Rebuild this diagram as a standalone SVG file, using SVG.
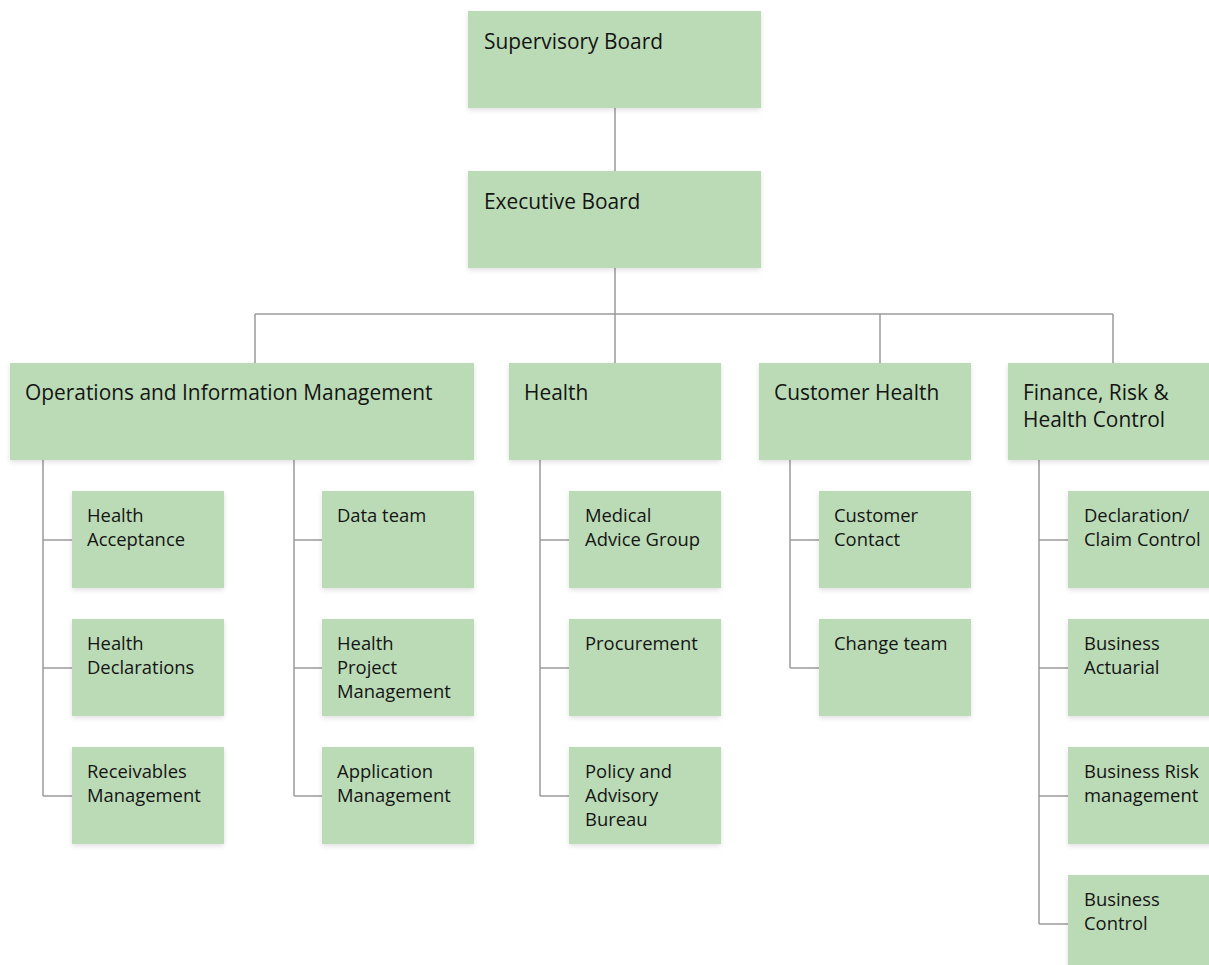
<svg xmlns="http://www.w3.org/2000/svg" width="1209" height="965" viewBox="0 0 1209 965">
<defs>
<filter id="sh" x="-10%" y="-10%" width="120%" height="130%">
<feDropShadow dx="0" dy="2" stdDeviation="2.5" flood-color="#000" flood-opacity="0.12"/>
</filter>
<style>
.box{fill:#bbdbb6;filter:url(#sh)}
.t1{font-family:"Open Sans","Noto Sans",sans-serif;font-size:20.9px;fill:#141414}
.t2{font-family:"Open Sans","Noto Sans",sans-serif;font-size:18.4px;fill:#141414}
.c{fill:none;stroke:#9a9a9a;stroke-width:1.5}
</style>
</defs>
<rect width="1209" height="965" fill="#fff"/>
<g id="connectors">
<path class="c" d="M615 108V171M615 268V314M255 314H1113M255 314V363M615 314V363M880 314V363M1113 314V363"/>
<path class="c" d="M43 460V796M43 540H72M43 668H72M43 796H72"/>
<path class="c" d="M294 460V796M294 540H322M294 668H322M294 796H322"/>
<path class="c" d="M540 460V796M540 540H569M540 668H569M540 796H569"/>
<path class="c" d="M790 460V668M790 540H819M790 668H819"/>
<path class="c" d="M1039 460V924M1039 540H1068M1039 668H1068M1039 796H1068M1039 924H1068"/>
</g>
<g id="supervisory"><rect class="box" x="468" y="11" width="293" height="97"/><text class="t1" x="484" y="49">Supervisory Board</text></g>
<g id="executive"><rect class="box" x="468" y="171" width="293" height="97"/><text class="t1" x="484" y="209">Executive Board</text></g>
<g id="ops"><rect class="box" x="10" y="363" width="464" height="97"/><text class="t1" x="25" y="400">Operations and Information Management</text></g>
<g id="health"><rect class="box" x="509" y="363" width="212" height="97"/><text class="t1" x="524" y="400">Health</text></g>
<g id="customer-health"><rect class="box" x="759" y="363" width="212" height="97"/><text class="t1" x="774" y="400">Customer Health</text></g>
<g id="finance"><rect class="box" x="1008" y="363" width="212" height="97"/><text class="t1" x="1023" y="400">Finance, Risk &amp;<tspan x="1023" dy="27">Health Control</tspan></text></g>
<g id="health-acceptance"><rect class="box" x="72" y="491" width="152" height="97"/><text class="t2" x="87" y="522">Health<tspan x="87" dy="24">Acceptance</tspan></text></g>
<g id="health-declarations"><rect class="box" x="72" y="619" width="152" height="97"/><text class="t2" x="87" y="650">Health<tspan x="87" dy="24">Declarations</tspan></text></g>
<g id="receivables"><rect class="box" x="72" y="747" width="152" height="97"/><text class="t2" x="87" y="778">Receivables<tspan x="87" dy="24">Management</tspan></text></g>
<g id="data-team"><rect class="box" x="322" y="491" width="152" height="97"/><text class="t2" x="337" y="522">Data team</text></g>
<g id="hpm"><rect class="box" x="322" y="619" width="152" height="97"/><text class="t2" x="337" y="650">Health<tspan x="337" dy="24">Project</tspan><tspan x="337" dy="24">Management</tspan></text></g>
<g id="app-mgmt"><rect class="box" x="322" y="747" width="152" height="97"/><text class="t2" x="337" y="778">Application<tspan x="337" dy="24">Management</tspan></text></g>
<g id="medical"><rect class="box" x="569" y="491" width="152" height="97"/><text class="t2" x="585" y="522">Medical<tspan x="585" dy="24">Advice Group</tspan></text></g>
<g id="procurement"><rect class="box" x="569" y="619" width="152" height="97"/><text class="t2" x="585" y="650">Procurement</text></g>
<g id="policy"><rect class="box" x="569" y="747" width="152" height="97"/><text class="t2" x="585" y="778">Policy and<tspan x="585" dy="24">Advisory</tspan><tspan x="585" dy="24">Bureau</tspan></text></g>
<g id="customer-contact"><rect class="box" x="819" y="491" width="152" height="97"/><text class="t2" x="834" y="522">Customer<tspan x="834" dy="24">Contact</tspan></text></g>
<g id="change-team"><rect class="box" x="819" y="619" width="152" height="97"/><text class="t2" x="834" y="650">Change team</text></g>
<g id="declaration"><rect class="box" x="1068" y="491" width="152" height="97"/><text class="t2" x="1084" y="522">Declaration/<tspan x="1084" dy="24">Claim Control</tspan></text></g>
<g id="actuarial"><rect class="box" x="1068" y="619" width="152" height="97"/><text class="t2" x="1084" y="650">Business<tspan x="1084" dy="24">Actuarial</tspan></text></g>
<g id="risk"><rect class="box" x="1068" y="747" width="152" height="97"/><text class="t2" x="1084" y="778">Business Risk<tspan x="1084" dy="24">management</tspan></text></g>
<g id="control"><rect class="box" x="1068" y="875" width="152" height="97"/><text class="t2" x="1084" y="906">Business<tspan x="1084" dy="24">Control</tspan></text></g>
</svg>
